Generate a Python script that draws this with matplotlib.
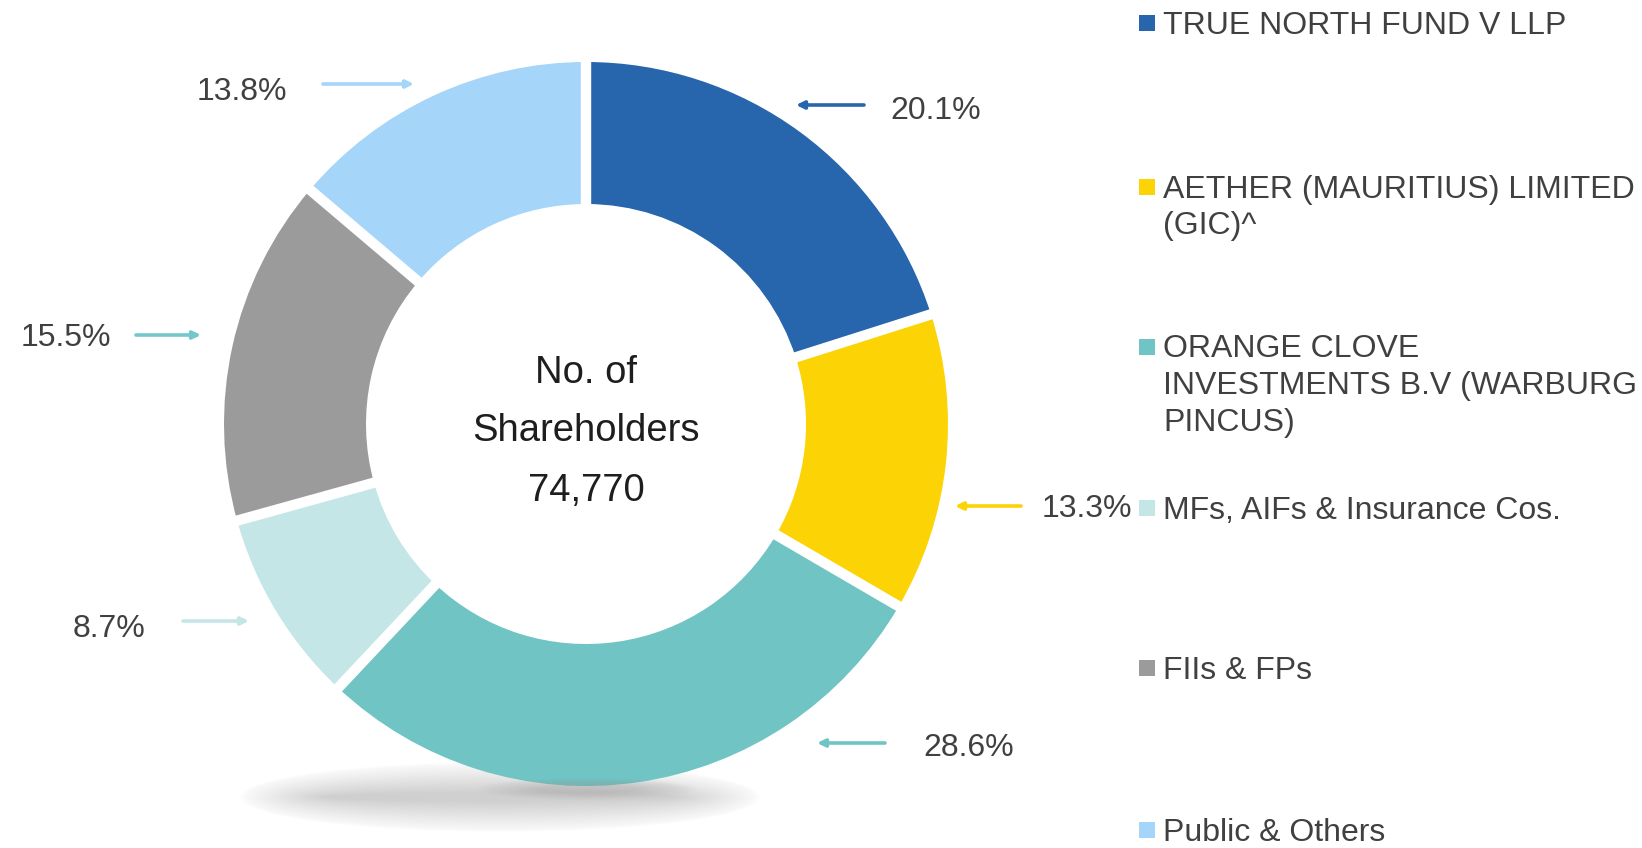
import matplotlib
matplotlib.use("Agg")
import numpy as np
import matplotlib.pyplot as plt
from matplotlib.patches import Ellipse, Rectangle

plt.rcParams['font.family'] = ['Liberation Sans', 'DejaVu Sans']

# shareholding pattern
categories = ['TRUE NORTH FUND V LLP',
              'AETHER (MAURITIUS) LIMITED\n(GIC)^',
              'ORANGE CLOVE\nINVESTMENTS B.V (WARBURG\nPINCUS)',
              'MFs, AIFs & Insurance Cos.',
              'FIIs & FPs',
              'Public & Others']
shares = [20.1, 13.3, 28.6, 8.7, 15.5, 13.8]
colors = ['#2765AC', '#FCD405', '#70C4C4', '#C5E6E7', '#9B9B9B', '#A5D5F8']
arrow_colors = ['#2765AC', '#FCD405', '#70C4C4', '#C5E6E7', '#74C8CC', '#A5D5F8']
center_lines = ['No. of', 'Shareholders', '74,770']

W, H = 1642, 848


def py(y):
    # pixel row (from top) -> data y
    return H - y


fig = plt.figure(figsize=(W / 100, H / 100), dpi=100)
ax = fig.add_axes([0, 0, 1, 1])

# soft shadow under the ring (sits a bit to the left)
n_sh = 45
for i in range(n_sh):
    k = i / (n_sh - 1)
    ax.add_patch(Ellipse((500, py(797)), 520 - 170 * k, 70 - 62 * k,
                         facecolor='#7a7a7a', edgecolor='none', alpha=0.0075, zorder=1))

# donut, no outlines so the bottom meets the shadow directly
cx, cy, r_out, r_in = 586, py(424), 362, 220
ax.pie(shares, colors=colors, radius=r_out, center=(cx, cy), startangle=90,
       counterclock=False, wedgeprops=dict(width=r_out - r_in, linewidth=0))

# white gaps between segments
bounds = 90 - 360 * np.cumsum([0] + shares[:-1]) / 100
for a in np.deg2rad(bounds):
    ax.plot([cx + (r_in - 2) * np.cos(a), cx + (r_out + 2) * np.cos(a)],
            [cy + (r_in - 2) * np.sin(a), cy + (r_out + 2) * np.sin(a)],
            color='white', lw=7.5, solid_capstyle='butt', zorder=4)

# faint darkening at the very bottom of the ring
for i in range(12):
    k = i / 11
    ax.add_patch(Ellipse((587, py(789)), 220 - 120 * k, 22 - 14 * k,
                         facecolor='#9a9a9a', edgecolor='none', alpha=0.03, zorder=3))

# centre text
for txt, yy in zip(center_lines, [373, 431, 491]):
    ax.text(cx, py(yy), txt, ha='center', va='center', fontsize=27.5, color='#1E1E1E')

# percentage labels with arrows (order follows shares)
label_xy = [(890, 111), (1042, 509), (923, 748), (73, 629), (21, 338), (197, 92)]
arrow_xy = [(864, 796, 105), (1021, 955, 506), (885, 817, 743),
            (183, 249, 621), (136, 201, 335), (323, 414, 84)]
for v, (lx, ly), (x0, x1, ay), c in zip(shares, label_xy, arrow_xy, arrow_colors):
    ax.text(lx, py(ly), f'{v:.1f}%', ha='left', va='center', fontsize=23, color='#404040')
    ax.annotate('', xy=(x1, py(ay)), xytext=(x0, py(ay)),
                arrowprops=dict(arrowstyle='-|>,head_length=0.45,head_width=0.22',
                                color=c, lw=2.6, shrinkA=0, shrinkB=0))

# legend drawn by hand
leg_first_line = [23, 187, 347, 508, 668, 830]
line_step = 36
for name, c, y0 in zip(categories, colors, leg_first_line):
    n = name.count('\n') + 1
    ax.add_patch(Rectangle((1139, py(y0) - 8), 16, 16, facecolor=c, edgecolor='none'))
    ax.text(1163, py(y0 + 3 + (n - 1) * line_step / 2), name, ha='left', va='center',
            fontsize=23, color='#404040', linespacing=1.3)

ax.set_xlim(0, W)
ax.set_ylim(0, H)
ax.set_aspect('auto')
ax.axis('off')

fig.savefig('out.png', dpi=100, facecolor='white')
